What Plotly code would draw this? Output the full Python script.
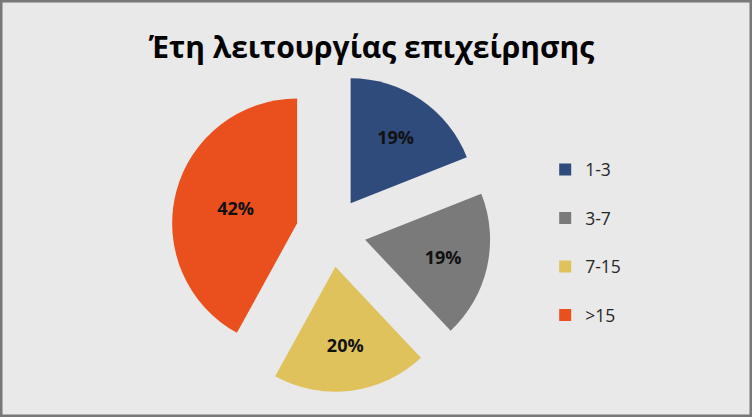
import plotly.graph_objects as go

title_text = "Έτη λειτουργίας επιχείρησης"
categories = ["1-3", "3-7", "7-15", ">15"]
values = [19, 19, 20, 42]
colors = ["#2F4B7C", "#7A7A7A", "#DFC25C", "#E9501E"]

# spacing trick: an empty second line gives taller legend rows
legend_labels = [c + "<br> " for c in categories]

fig = go.Figure()
fig.add_trace(go.Pie(
    labels=legend_labels,
    values=values,
    sort=False,
    direction="clockwise",
    rotation=0,
    pull=[0.28] * len(values),
    marker=dict(colors=colors, line=dict(width=0)),
    texttemplate="%{percent:.0%}",
    textposition="inside",
    insidetextorientation="horizontal",
    textfont=dict(family="Open Sans", size=18, color="#111111", weight="bold"),
    domain=dict(x=[0.2274, 0.6529], y=[0.060, 0.827]),
    hoverinfo="skip",
))

fig.update_layout(
    width=752, height=417,
    margin=dict(l=0, r=0, t=0, b=0),
    paper_bgcolor="#E9E9E9",
    plot_bgcolor="#E9E9E9",
    title=dict(text=title_text, x=0.494, xanchor="center", y=0.885, yanchor="middle",
               font=dict(family="Open Sans", size=30, color="#000000", weight="bold")),
    legend=dict(x=0.725, xanchor="left", y=0.392, yanchor="middle",
                valign="top", tracegroupgap=0,
                font=dict(family="Open Sans", size=17.5, color="#262626"),
                bgcolor="rgba(0,0,0,0)"),
    shapes=[dict(type="rect", xref="paper", yref="paper", x0=0, x1=1, y0=0, y1=1,
                 line=dict(color="#787878", width=5), fillcolor="rgba(0,0,0,0)")],
)

fig.write_html("out.html", config={"displayModeBar": False},
               post_script="document.body.style.margin='0';document.body.style.overflow='hidden';")
